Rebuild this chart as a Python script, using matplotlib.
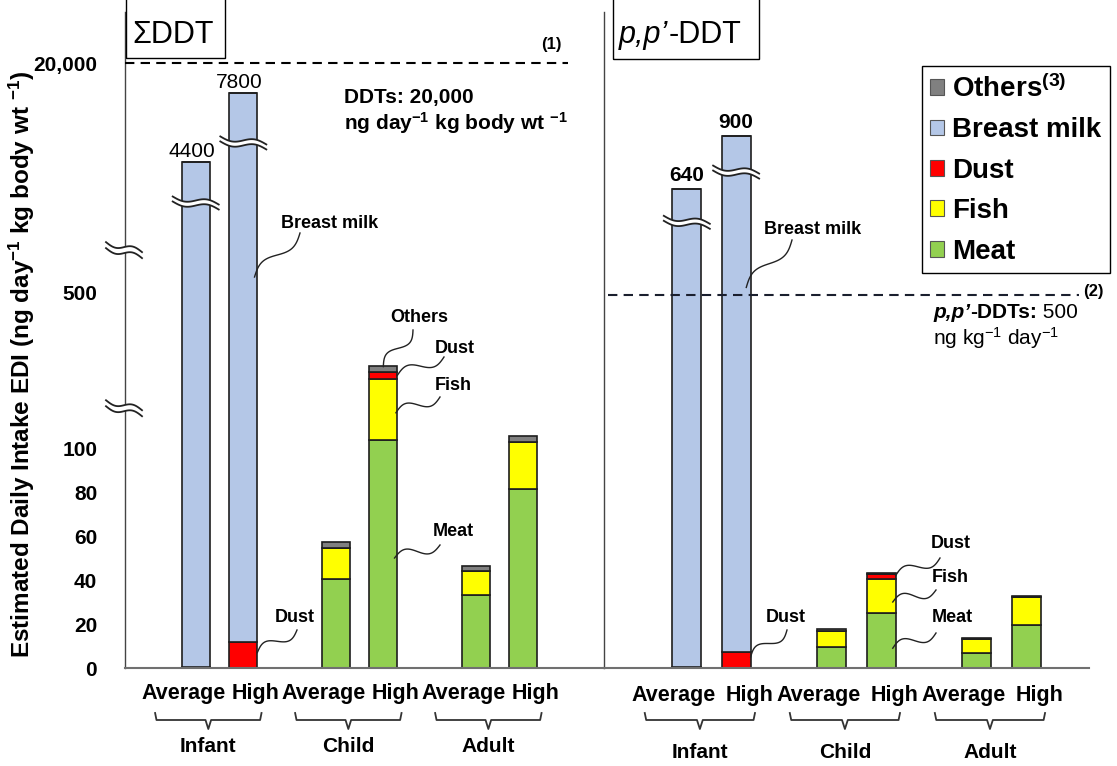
import numpy as np
import matplotlib.pyplot as plt
from matplotlib.patches import Patch, Rectangle, Polygon
from matplotlib.lines import Line2D
from matplotlib.transforms import IdentityTransform, blended_transform_factory

plt.rcParams['font.family'] = ['Liberation Sans', 'DejaVu Sans']
plt.rcParams['mathtext.fontset'] = 'custom'
plt.rcParams['mathtext.rm'] = 'Liberation Sans'
plt.rcParams['mathtext.bf'] = 'Liberation Sans:bold'
plt.rcParams['mathtext.it'] = 'Liberation Sans:italic'

W, H = 1117, 766

groups = ['Infant', 'Child', 'Adult']
levels = ['Average', 'High']
sources = ['Meat', 'Fish', 'Dust', 'Breast milk', 'Others']
colors = ['#92d050', '#ffff00', '#ff0000', '#b4c7e7', '#808080']

# Sum of DDTs (bars: Infant avg/high, Child avg/high, Adult avg/high)
sum_infant_totals = [4400, 7800]
sum_meat = [0, 0, 40.5, 103.6, 33.2, 81.4]
sum_fish = [0, 0, 14.0, 27.8, 10.9, 21.3]
sum_dust = [0.6, 12.0, 0, 3.1, 0, 0]
sum_others = [0, 0, 2.8, 2.8, 2.3, 2.8]
sum_limit = 20000

# p,p'-DDT
pp_infant_totals = [640, 900]
pp_meat = [0, 0, 9.5, 25.1, 6.7, 19.5]
pp_fish = [0, 0, 7.3, 15.5, 6.3, 12.8]
pp_dust = [0.6, 7.3, 0, 2.0, 0, 0]
pp_others = [0, 0, 1.1, 0.7, 0.8, 0.5]
pp_limit = 500

# broken value axis: piecewise linear between break points (value, height)
sum_axis = ([0, 140, 500, 4400, 7800, 20000, 40000], [0, 308, 376, 506, 575, 605, 660])
pp_axis = ([0, 140, 500, 640, 900, 3000], [0, 308, 373, 479, 532, 660])

fig = plt.figure(figsize=(W / 100, H / 100), dpi=100)
ax1 = fig.add_axes([125 / W, 98 / H, 479 / W, 656 / H])
ax2 = fig.add_axes([604 / W, 98 / H, 485 / W, 656 / H])

bar_x = np.array([g + s * 0.17 for g in range(3) for s in (-1, 1)])
BW = 0.2


def breast_milk(totals, dust):
    return [t - d for t, d in zip(totals, dust[:2])] + [0] * 4


def setup(ax, knots, xlim):
    vals, hts = knots
    fwd = lambda v: np.interp(v, vals, hts)
    inv = lambda p: np.interp(p, hts, vals)
    ax.set_yscale('function', functions=(fwd, inv))
    ax.set_ylim(0, inv(656))
    ax.set_xlim(*xlim)
    ax.set_xticks([])
    for s in ('top', 'right'):
        ax.spines[s].set_visible(False)
    ax.spines['left'].set_color('#444444')
    ax.spines['left'].set_linewidth(1.0)
    ax.spines['bottom'].set_color('#707070')
    ax.spines['bottom'].set_linewidth(1.5)
    ax.patch.set_alpha(0)


def stack(ax, layers):
    bottom = np.zeros(6)
    for vals, c in zip(layers, colors):
        vals = np.asarray(vals, float)
        ax.bar(bar_x, vals, BW, bottom=bottom, color=c, edgecolor='#1e1e1e', lw=1.2, zorder=2)
        bottom += vals
    return bottom


setup(ax1, sum_axis, (-0.675, 2.746))
setup(ax2, pp_axis, (-0.741, 2.603))

sum_tot = stack(ax1, [sum_meat, sum_fish, sum_dust, breast_milk(sum_infant_totals, sum_dust), sum_others])
pp_tot = stack(ax2, [pp_meat, pp_fish, pp_dust, breast_milk(pp_infant_totals, pp_dust), pp_others])

# value labels above the infant bars
for i in range(2):
    ax1.annotate(f'{sum_tot[i]:.0f}', (bar_x[i], sum_tot[i]), xytext=(-3, 1), textcoords='offset points',
                 ha='center', va='bottom', fontsize=15)
    ax2.annotate(f'{pp_tot[i]:.0f}', (bar_x[i], pp_tot[i]), xytext=(0, 3), textcoords='offset points',
                 ha='center', va='bottom', fontsize=15, fontweight='bold')

# y axis
ax1.set_yticks([0, 20, 40, 60, 80, 100, 500, 20000])
ax1.set_yticklabels(['0', '20', '40', '60', '80', '100', '500', '20,000'], fontsize=15, fontweight='bold')
ax1.tick_params(axis='y', length=0, pad=20)
ax2.set_yticks([])
ax1.set_ylabel('Estimated Daily Intake EDI (ng day$^{\\mathbf{-1}}$ kg body wt $^{\\mathbf{-1}}$)',
               fontsize=17.5, fontweight='bold')
ax1.yaxis.set_label_coords(-0.184, 0.462)

# guideline values
ax1.axhline(sum_limit, xmin=0, xmax=0.925, color='black', lw=1.5, ls=(0, (4.5, 3)), zorder=3)
ax2.axhline(pp_limit, xmin=0.008, xmax=0.979, color='#1a1f2e', lw=1.5, ls=(0, (4.5, 3)), zorder=3)


def fpos(x, y):
    return x / W, 1 - y / H


fig.text(*fpos(551, 45), '(1)', fontsize=12, fontweight='bold', ha='center', va='center')
fig.text(*fpos(1083, 291), '(2)', fontsize=12, fontweight='bold', ha='left', va='center')
fig.text(*fpos(344, 98), 'DDTs: 20,000', fontsize=15, fontweight='bold', va='center')
fig.text(*fpos(344, 123), 'ng day$^{\\mathbf{-1}}$ kg body wt $^{\\mathbf{-1}}$', fontsize=15,
         fontweight='bold', va='center')

p1 = fig.text(*fpos(933, 313), 'p,p’', fontsize=15, fontweight='bold', style='italic', va='center')
a1 = ax2.annotate('-DDTs:', xy=(1, 0), xycoords=p1, va='bottom', fontsize=15, fontweight='bold')
ax2.annotate(' 500', xy=(1, 0), xycoords=a1, va='bottom', fontsize=15)
fig.text(*fpos(933, 338), 'ng kg$^{-1}$ day$^{-1}$', fontsize=15, va='center')

# panel titles in boxes
fig.text(*fpos(132, 35), 'ΣDDT', fontsize=22, va='center')
fig.add_artist(Rectangle(fpos(126, 58), 99 / W, 80 / H, fill=False, ec='black', lw=1.0,
                         transform=fig.transFigure))
pt = fig.text(*fpos(619, 35), 'p,p’', fontsize=22, style='italic', va='center')
ax2.annotate('-DDT', xy=(1, 0), xycoords=pt, va='bottom', fontsize=22)
fig.add_artist(Rectangle(fpos(613, 59), 146 / W, 80 / H, fill=False, ec='black', lw=1.0,
                         transform=fig.transFigure))

# x labels and braces
for ax, lab_y, grp_y in ((ax1, 693, 747), (ax2, 695, 752)):
    tr = blended_transform_factory(ax.transData, fig.transFigure)
    for g, name in enumerate(groups):
        ax.text(g - 0.26, 1 - lab_y / H, levels[0], transform=tr, ha='center', va='center',
                fontsize=15.5, fontweight='bold')
        ax.text(g + 0.26, 1 - lab_y / H, levels[1], transform=tr, ha='center', va='center',
                fontsize=15.5, fontweight='bold')
        c = g - 0.08
        bx = [c - 0.38, c - 0.37, c - 0.02, c, c + 0.02, c + 0.37, c + 0.38]
        by = [713, 720, 720, 729, 720, 720, 713]
        ax.plot(bx, [1 - v / H for v in by], transform=tr, color='#333333', lw=1.3, clip_on=False)
        ax.text(c, 1 - grp_y / H, name, transform=tr, ha='center', va='center',
                fontsize=15, fontweight='bold')


def break_mark(cx, cy, w, tilt=8, gap=5, amp=3.0):
    s = np.linspace(-0.5, 0.5, 60)
    xs = cx + s * w
    ys = cy - tilt * s + amp * np.sin(2 * np.pi * s)
    poly = np.column_stack([np.r_[xs, xs[::-1]], np.r_[ys + gap / 2, (ys - gap / 2)[::-1]]])
    fig.add_artist(Polygon(poly, closed=True, fc='white', ec='none', transform=IdentityTransform(), zorder=5))
    for off in (gap / 2, -gap / 2):
        fig.add_artist(Line2D(xs, ys + off, color='#222222', lw=1.3, transform=IdentityTransform(), zorder=6))


# breaks on the tall bars and on the value axis
for ax, i, v in ((ax1, 0, 3170), (ax1, 1, 5340), (ax2, 0, 596), (ax2, 1, 723)):
    cx, cy = ax.transData.transform((bar_x[i], v))
    break_mark(cx, cy, 46)
for fy in (0.396, 0.637):
    cx, cy = ax1.transAxes.transform((0, fy))
    break_mark(cx - 1, cy, 36, tilt=10, gap=6)


def leader(ax, x, v, start, amp=5.5):
    x1, y1 = ax.transData.transform((x, v))
    x0, y0 = start[0], H - start[1]
    s = np.linspace(0, 1, 60)
    dx, dy = x1 - x0, y1 - y0
    L = np.hypot(dx, dy)
    nx, ny = -dy / L, dx / L
    a = amp * np.sin(2 * np.pi * s)
    fig.add_artist(Line2D(x0 + dx * s + nx * a, y0 + dy * s + ny * a, color='#222222', lw=1.0,
                          transform=IdentityTransform(), zorder=7))


callouts = [
    (ax1, 1, 0.08, 950, 'Breast milk', (330, 223), (300, 233)),
    (ax1, 3, 0.0, 137, 'Others', (419, 317), (413, 330)),
    (ax1, 3, 0.1, 133, 'Dust', (455, 348), (444, 357)),
    (ax1, 3, 0.09, 116, 'Fish', (453, 385), (440, 397)),
    (ax1, 3, 0.08, 50, 'Meat', (453, 532), (440, 545)),
    (ax1, 1, 0.1, 7, 'Dust', (295, 617), (297, 630)),
    (ax2, 1, 0.07, 510, 'Breast milk', (813, 230), (792, 240)),
    (ax2, 1, 0.1, 5, 'Dust', (786, 618), (787, 630)),
    (ax2, 3, 0.1, 42, 'Dust', (951, 543), (940, 558)),
    (ax2, 3, 0.08, 30, 'Fish', (950, 577), (936, 590)),
    (ax2, 3, 0.08, 9, 'Meat', (952, 618), (936, 633)),
]
for ax, i, dx, v, txt, tpos, start in callouts:
    fig.text(*fpos(*tpos), txt, fontsize=13, fontweight='bold', ha='center', va='center')
    leader(ax, bar_x[i] + dx, v, start)

# legend
handles = [Patch(facecolor=c, edgecolor='#555555', lw=0.8) for c in colors[::-1]]
labels = ['Others$^{\\mathbf{(3)}}$'] + sources[::-1][1:]
leg = fig.legend(handles, labels, loc='upper right', bbox_to_anchor=fpos(1110, 66),
                 prop={'weight': 'bold', 'size': 20}, fancybox=False, framealpha=1,
                 edgecolor='black', handlelength=0.5, handleheight=0.5, handletextpad=0.3,
                 labelspacing=0.52, borderpad=0.3, borderaxespad=0)
leg.get_frame().set_linewidth(1.0)

fig.savefig('out.png', dpi=100)
